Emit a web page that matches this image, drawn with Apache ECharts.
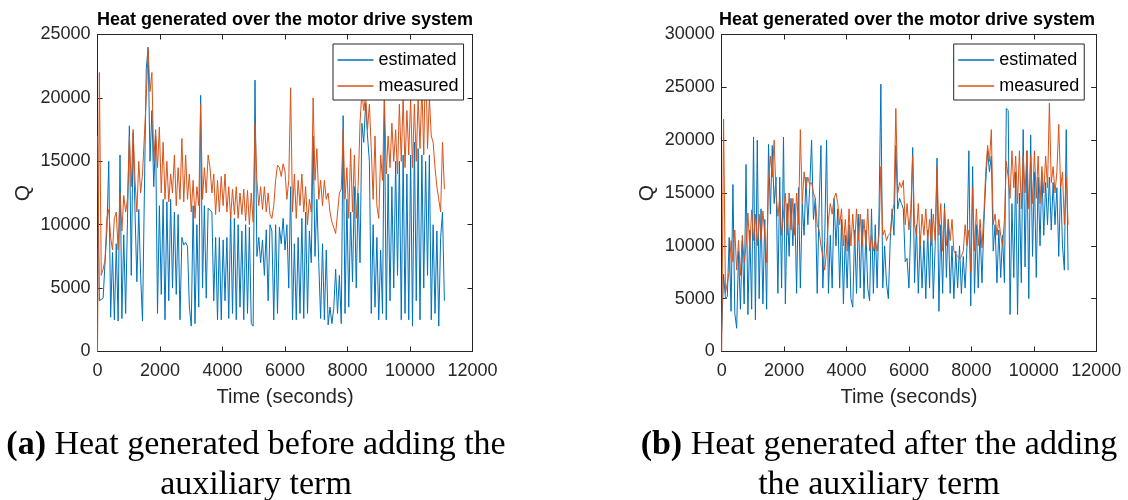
<!DOCTYPE html>
<html><head><meta charset="utf-8">
<script src="https://cdn.jsdelivr.net/npm/echarts@6/dist/echarts.min.js"></script>
<style>html,body{margin:0;padding:0;background:#fff}#chart{width:1128px;height:500px}</style>
</head><body><div id="chart"></div>
<script>
// sample times (seconds)
const timeSec = [
0,60,120,180,240,300,360,420,480,540,
600,660,720,780,840,900,960,1020,1080,1140,
1200,1260,1320,1380,1440,1500,1560,1620,1680,1740,
1800,1860,1920,1980,2040,2100,2160,2220,2280,2340,
2400,2460,2520,2580,2640,2700,2760,2820,2880,2940,
3000,3060,3120,3180,3240,3300,3360,3420,3480,3540,
3600,3660,3720,3780,3840,3900,3960,4020,4080,4140,
4200,4260,4320,4380,4440,4500,4560,4620,4680,4740,
4800,4860,4920,4980,5040,5100,5160,5220,5280,5340,
5400,5460,5520,5580,5640,5700,5760,5820,5880,5940,
6000,6060,6120,6180,6240,6300,6360,6420,6480,6540,
6600,6660,6720,6780,6840,6900,6960,7020,7080,7140,
7200,7260,7320,7380,7440,7500,7560,7620,7680,7740,
7800,7860,7920,7980,8040,8100,8160,8220,8280,8340,
8400,8460,8520,8580,8640,8700,8760,8820,8880,8940,
9000,9060,9120,9180,9240,9300,9360,9420,9480,9540,
9600,9660,9720,9780,9840,9900,9960,10020,10080,10140,
10200,10260,10320,10380,10440,10500,10560,10620,10680,10740,
10800,10860,10920,10980,11040,11100];

// (a) before adding the auxiliary term
const leftEstimated = [
17000,4000,4100,4200,7000,9500,15000,2700,7800,2500,
8500,2400,15500,2600,9200,3000,10500,17800,6000,17200,
11000,5500,11200,6000,2400,12500,22300,24000,15000,19000,
13000,17000,3000,11500,4500,12000,2500,11800,4000,12000,
5000,11000,4500,10800,2500,9000,8400,8600,8300,3500,
2000,11500,2200,10000,3500,20200,5000,11500,4200,11300,
11300,11000,4000,9000,2500,9000,2500,8800,4000,9000,
2600,11000,3000,10500,2500,10000,3500,9500,2500,10000,
3000,9800,2200,2000,21400,7500,9000,7000,8800,6000,
9600,4000,10000,9500,2500,10000,3000,9800,8500,10500,
8000,10000,5000,13000,2500,8500,2500,9000,3000,10500,
2600,11000,3000,9500,7000,17000,7500,12000,7000,2600,
8500,2500,8000,2100,3500,2200,3400,6500,3000,6000,
2200,18600,3000,12000,3500,11000,5500,13000,5000,12500,
7000,18000,16500,19600,17000,15000,3000,10000,3500,9000,
2500,8000,3000,20000,2500,14000,4000,13000,5000,15000,
6000,15000,2500,15500,3000,14000,2500,15500,2000,16500,
4000,16000,2500,15500,5000,15000,6000,15500,2500,10000,
3000,9500,2000,9000,11000,4000];

const leftMeasured = [
0,22000,6000,6500,7200,10500,11200,9000,8000,10500,
11000,8000,12500,9500,12300,11000,12000,17000,13000,17500,
13500,11000,15000,12500,14000,17000,20000,23800,20500,22000,
15000,17500,14500,17700,12500,16500,12000,15000,11800,14000,
12500,15500,11500,14500,12000,16800,11800,15500,12000,14000,
11000,13500,10500,13000,11500,19500,12000,14500,12500,15500,
14500,12500,14000,10800,13500,11000,13800,11500,14000,11000,
13000,10500,12800,10800,13000,10500,12500,10800,12800,10300,
12700,10000,12500,10200,18000,13500,11500,13000,11200,13000,
11000,12500,10800,10500,11500,13500,14700,14500,13800,14800,
14200,12000,13500,20800,11000,14000,10500,13500,11500,14000,
11000,13000,10000,12000,11000,20000,13500,16000,12000,13500,
11500,13500,12000,12500,11000,10200,9800,9300,9200,12500,
12800,17500,12000,14500,10500,16000,11000,15500,10500,13000,
18000,20500,19000,20200,17500,19500,16000,12000,17000,11500,
10500,15500,13500,20000,14000,17000,14500,18000,15000,17500,
14000,19500,15000,20000,14500,19000,15500,20000,14500,19500,
15000,20000,16000,21000,15500,24200,16000,20000,17000,16500,
14500,13000,12000,11000,16500,12800];

// (b) after adding the auxiliary term
const rightEstimated = [
1900,7300,5000,5200,10800,3800,15800,3600,2200,9500,
4000,10500,4500,17700,3500,11500,4000,20300,3000,20000,
5000,13500,4500,12500,4000,19600,13000,19500,14000,16500,
5500,16500,6000,20300,4500,14000,9000,14500,10000,14000,
5500,15500,6000,14000,11000,16500,12000,15500,20000,12500,
14500,5500,13500,19500,6000,10500,20000,5500,11000,6000,
14500,10000,13500,6000,12500,4500,11000,6000,12000,5000,
4200,11500,5500,13000,6000,12500,5000,11500,6000,4800,
13500,5500,12000,6000,13000,25300,6000,10000,6500,5000,
10500,13500,11000,19500,13500,14500,14000,13500,8500,8800,
6000,12000,19300,6500,12000,5500,11000,6000,10500,5000,
11500,6000,13500,5000,10000,18300,3800,12000,5500,14000,
7000,12500,5500,10000,5000,9500,6000,10000,5500,9000,
6000,10000,19000,4300,17500,5500,12000,6000,11500,6500,
12000,16000,19000,17000,18500,9500,12000,6500,11500,7000,
11000,6500,23000,22800,3500,14000,7000,17000,3500,15000,
6500,21000,8000,19000,5000,20500,9000,17000,7000,16500,
10000,17000,11000,16000,12000,16500,11500,16000,12000,15500,
9000,16000,10000,7700,21000,7700];

const rightMeasured = [
0,22000,5500,6500,7500,10500,8500,11500,7700,10500,
7200,11000,8400,10000,13100,9700,13400,10500,13000,10000,
13000,10500,13300,11000,8400,16000,18500,16500,20000,15000,
12800,14500,11000,13000,15000,11000,15000,11500,14500,11000,
15000,12000,21000,14000,17000,15500,16500,15800,16000,15000,
14500,12000,11500,10000,9000,7700,9500,12500,14000,13000,
14500,15000,14000,12000,13500,10000,12500,9500,13500,10000,
13000,10000,13500,10500,13000,10000,12500,10000,13500,9500,
11000,9500,10500,9500,11000,17500,11000,11500,10500,11000,
11200,13000,14000,23000,15000,16000,15500,16200,12000,14000,
11500,13500,18500,12000,11000,14000,10000,13000,11000,13500,
10500,12500,10000,13000,10500,17500,11000,14000,9500,13500,
10000,12500,10500,12500,9500,9200,9000,8800,9000,9500,
12000,10000,11500,7500,15500,9500,13500,10000,12500,9800,
13000,17000,19500,18000,21000,12000,13000,11000,12500,11000,
10000,12500,18000,16500,14500,19000,15500,18500,14000,19000,
13500,18500,15000,19000,13500,18500,14000,19000,14500,18500,
14000,17500,15000,18500,15500,23500,16000,17500,15000,17000,
21500,15500,17000,12000,16500,12000];

const seriesNames = ['estimated', 'measured'];
const plotTitle = 'Heat generated over the motor drive system';
const xName = 'Time (seconds)';
const yName = 'Q';
const xTicks = {min: 0, max: 12000, interval: 2000};
const yTicksLeft = {min: 0, max: 25000, interval: 5000};
const yTicksRight = {min: 0, max: 30000, interval: 5000};
const captionA = ['{b|(a)} Heat generated before adding the', 'auxiliary term'];
const captionB = ['{b|(b)} Heat generated after the adding', 'the auxiliary term'];

const BLUE = '#0072BD', ORANGE = '#D95319', AX = '#262626';
const SANS = '"Liberation Sans", Arial, Helvetica, sans-serif';
const SERIF = '"Liberation Serif", "Times New Roman", serif';

function pairs(vals) { return timeSec.map((t, i) => [t, vals[i]]); }
const plain = v => String(v);

const grids = [
  {left: 97.5, top: 34.5, width: 375, height: 317},
  {left: 721.7, top: 34.5, width: 374.5, height: 317}
];

function xAxes(gi, ticks) {
  const base = {gridIndex: gi, type: 'value', min: ticks.min, max: ticks.max, interval: ticks.interval,
    splitLine: {show: false}, axisLine: {show: true, onZero: false, lineStyle: {color: AX, width: 1}},
    axisTick: {show: true, inside: true, length: 5, lineStyle: {color: AX, width: 1}}};
  return [
    Object.assign({}, base, {position: 'bottom',
      axisLabel: {color: AX, fontSize: 18, fontFamily: SANS, margin: 11, formatter: plain},
      name: xName, nameLocation: 'middle', nameGap: 36,
      nameTextStyle: {color: AX, fontSize: 20, fontFamily: SANS}}),
    Object.assign({}, base, {position: 'top', axisLabel: {show: false}})
  ];
}
function yAxes(gi, ticks) {
  const base = {gridIndex: gi, type: 'value', min: ticks.min, max: ticks.max, interval: ticks.interval,
    splitLine: {show: false}, axisLine: {show: true, onZero: false, lineStyle: {color: AX, width: 1}},
    axisTick: {show: true, inside: true, length: 5, lineStyle: {color: AX, width: 1}}};
  return [
    Object.assign({}, base, {position: 'left',
      axisLabel: {color: AX, fontSize: 18, fontFamily: SANS, margin: 7, formatter: plain},
      name: yName, nameLocation: 'middle', nameGap: 64,
      nameTextStyle: {color: AX, fontSize: 21, fontFamily: SANS}}),
    Object.assign({}, base, {position: 'right', axisLabel: {show: false}})
  ];
}

function legend(left) {
  return {left: left, top: 44, orient: 'vertical', data: seriesNames,
    icon: 'rect', itemWidth: 36, itemHeight: 1.5, itemGap: 8,
    padding: [7, 5, 5, 4.5], backgroundColor: '#fff', borderColor: AX, borderWidth: 1,
    borderRadius: 0, selectedMode: false,
    textStyle: {color: '#000', fontSize: 18, fontFamily: SANS, lineHeight: 18, padding: [0, 0, 0, 0]}};
}

function line(name, vals, xi, yi, color, z) {
  return {type: 'line', name: name, xAxisIndex: xi, yAxisIndex: yi, data: pairs(vals),
    showSymbol: false, symbol: 'none', z: z, animation: false,
    lineStyle: {color: color, width: 1}, itemStyle: {color: color}};
}

function text(str, x, y, size, weight, family) {
  return {type: 'text', x: x, y: y, silent: true,
    style: {text: str, fill: '#000', fontSize: size, fontWeight: weight, fontFamily: family,
      align: 'center', verticalAlign: 'middle', textAlign: 'center', textVerticalAlign: 'middle',
      rich: {b: {fontWeight: 'bold', fontSize: size, fontFamily: family, fill: '#000'}}}};
}

const option = {
  animation: false,
  backgroundColor: '#fff',
  grid: grids,
  xAxis: xAxes(0, xTicks).concat(xAxes(1, xTicks)),
  yAxis: yAxes(0, yTicksLeft).concat(yAxes(1, yTicksRight)),
  legend: [legend(333), legend(953.7)],
  series: [
    line(seriesNames[0], leftEstimated, 0, 0, BLUE, 2),
    line(seriesNames[1], leftMeasured, 0, 0, ORANGE, 3),
    line(seriesNames[0], rightEstimated, 2, 2, BLUE, 2),
    line(seriesNames[1], rightMeasured, 2, 2, ORANGE, 3)
  ],
  graphic: [
    text(plotTitle, 285, 20, 18, 'bold', SANS),
    text(plotTitle, 907, 20, 18, 'bold', SANS),
    text(captionA[0], 256, 445, 34, 'normal', SERIF),
    text(captionA[1], 256, 485, 34, 'normal', SERIF),
    text(captionB[0], 879, 445, 34, 'normal', SERIF),
    text(captionB[1], 879, 485, 34, 'normal', SERIF)
  ]
};
const chart = echarts.init(document.getElementById('chart'), null, {renderer: 'canvas'});
chart.setOption(option);
</script></body></html>
